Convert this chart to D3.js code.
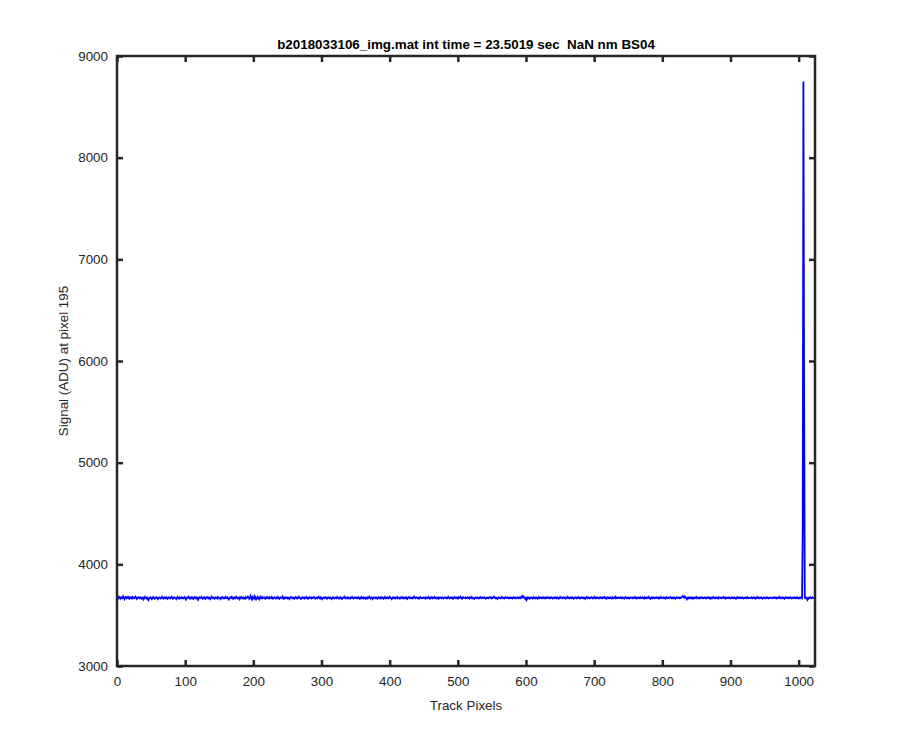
<!DOCTYPE html>
<html><head><meta charset="utf-8">
<script src="https://cdn.jsdelivr.net/npm/d3@7"></script>
<style>body{margin:0;background:#fff}svg{font-family:"Liberation Sans",Arial,Helvetica,sans-serif}</style>
</head><body><svg id="c" width="900" height="750"></svg>
<script>
const titleText = "b2018033106_img.mat int time = 23.5019 sec  NaN nm BS04";
const xLabel = "Track Pixels";
const yLabel = "Signal (ADU) at pixel 195";
const xTicks = [0,100,200,300,400,500,600,700,800,900,1000];
const yTicks = [3000,4000,5000,6000,7000,8000,9000];
const signal = [
3674,3666,3680,3670,3662,3676,3672,3668,3684,3670,3658,3674,3678,3666,3672,3680,3668,3662,3676,3670,3674,3664,3678,3672,3666,3670,3682,3674,3660,3668,3676,3670,
3666,3678,3672,3662,3670,3674,3656,3668,3680,3670,3664,3674,3666,3650,3662,3672,3676,3668,3660,3670,3678,3666,3662,3672,3668,3676,3670,3658,3666,3674,3670,3664,
3672,3680,3668,3662,3674,3670,3666,3678,3672,3660,3668,3676,3670,3664,3674,3682,3670,3662,3668,3676,3672,3666,3658,3670,3678,3668,3662,3674,3670,3666,3676,3672,
3664,3670,3678,3666,3654,3668,3674,3670,3682,3672,3662,3668,3676,3666,3672,3660,3670,3678,3668,3664,3674,3670,3652,3666,3676,3672,3668,3680,3670,3662,3672,3676,
3668,3660,3672,3678,3670,3664,3674,3668,3658,3670,3682,3674,3666,3672,3662,3668,3676,3670,3664,3678,3672,3666,3670,3660,3674,3668,3676,3672,3664,3670,3680,3668,
3670,3676,3664,3654,3668,3674,3670,3678,3666,3672,3662,3670,3676,3668,3680,3672,3664,3668,3674,3658,3670,3678,3668,3672,3664,3674,3670,3662,3676,3668,3672,3682,
3674,3660,3670,3688,3666,3654,3678,3670,3662,3686,3672,3656,3668,3680,3666,3674,3658,3670,3682,3668,3664,3676,3670,3666,3674,3662,3670,3678,3668,3672,3664,3676,
3670,3666,3680,3672,3662,3668,3676,3670,3664,3674,3668,3678,3666,3660,3670,3676,3672,3666,3682,3670,3662,3672,3668,3676,3670,3664,3674,3666,3658,3670,3678,3672,
3666,3674,3670,3662,3672,3678,3668,3664,3674,3670,3680,3672,3666,3660,3670,3676,3668,3672,3664,3674,3670,3678,3666,3662,3672,3668,3676,3670,3664,3674,3668,3672,
3678,3670,3662,3668,3674,3666,3672,3680,3670,3664,3676,3668,3658,3670,3674,3666,3672,3678,3668,3662,3670,3676,3672,3666,3674,3670,3660,3668,3676,3672,3664,3670,
3674,3668,3678,3670,3664,3672,3666,3676,3670,3660,3668,3674,3670,3682,3672,3664,3670,3676,3666,3672,3668,3662,3674,3670,3678,3668,3664,3672,3676,3670,3666,3674,
3668,3676,3670,3662,3672,3666,3678,3670,3664,3674,3668,3672,3660,3670,3676,3666,3672,3680,3670,3664,3674,3668,3658,3670,3676,3672,3666,3674,3670,3662,3672,3678,
3670,3664,3674,3668,3676,3672,3662,3670,3678,3666,3672,3668,3674,3664,3670,3680,3672,3666,3658,3670,3676,3668,3672,3664,3674,3670,3678,3666,3672,3668,3662,3674,
3672,3678,3668,3664,3674,3670,3666,3676,3668,3660,3672,3678,3670,3666,3674,3668,3672,3664,3670,3682,3674,3666,3670,3676,3668,3672,3662,3670,3678,3672,3666,3670,
3668,3674,3670,3664,3676,3672,3666,3670,3680,3668,3662,3674,3670,3676,3666,3672,3668,3678,3670,3664,3672,3668,3674,3662,3670,3676,3672,3666,3674,3670,3664,3672,
3676,3670,3666,3674,3668,3680,3672,3664,3670,3676,3668,3672,3662,3670,3678,3672,3666,3674,3670,3664,3676,3668,3672,3682,3670,3662,3672,3676,3668,3670,3674,3666,
3670,3676,3668,3672,3664,3674,3670,3678,3666,3672,3668,3660,3670,3676,3672,3666,3674,3670,3664,3672,3678,3668,3670,3674,3666,3672,3676,3668,3662,3670,3674,3670,
3666,3672,3678,3670,3664,3674,3668,3672,3682,3670,3666,3674,3668,3660,3670,3676,3672,3666,3670,3678,3668,3674,3670,3664,3672,3676,3668,3670,3674,3666,3672,3668,
3674,3668,3672,3664,3670,3678,3670,3666,3674,3668,3672,3676,3666,3670,3674,3668,3678,3672,3690,3686,3674,3668,3658,3670,3652,3666,3676,3670,3662,3672,3668,3674,
3670,3664,3676,3668,3672,3666,3674,3670,3662,3672,3678,3668,3670,3674,3666,3672,3668,3676,3670,3664,3674,3668,3672,3678,3670,3666,3672,3668,3676,3670,3664,3672,
3668,3674,3670,3676,3666,3672,3668,3662,3674,3670,3678,3672,3666,3670,3676,3668,3672,3664,3674,3670,3680,3668,3672,3666,3670,3676,3668,3674,3670,3662,3672,3676,
3670,3666,3674,3668,3678,3672,3664,3670,3676,3668,3672,3666,3674,3670,3660,3672,3678,3668,3674,3670,3666,3672,3668,3676,3670,3664,3674,3670,3678,3666,3672,3668,
3674,3670,3664,3672,3676,3668,3672,3666,3674,3670,3678,3668,3672,3662,3670,3676,3668,3672,3666,3674,3670,3664,3676,3668,3672,3670,3680,3666,3672,3668,3674,3670,
3668,3672,3676,3666,3670,3674,3668,3662,3672,3678,3670,3666,3674,3668,3672,3664,3670,3676,3672,3666,3674,3670,3668,3678,3670,3664,3672,3668,3674,3670,3666,3676,
3672,3668,3674,3670,3664,3676,3668,3672,3666,3674,3670,3680,3668,3672,3662,3670,3676,3668,3674,3670,3666,3672,3676,3668,3670,3674,3664,3672,3668,3678,3670,3666,
3670,3674,3668,3672,3664,3676,3670,3666,3674,3668,3672,3678,3670,3664,3672,3668,3674,3670,3662,3672,3676,3668,3670,3674,3666,3672,3668,3676,3682,3688,3680,3672,
3684,3674,3668,3656,3670,3664,3674,3668,3672,3666,3676,3670,3662,3672,3668,3674,3670,3678,3666,3672,3668,3664,3674,3670,3676,3668,3672,3666,3670,3674,3668,3672,
3666,3674,3670,3676,3668,3672,3662,3670,3674,3668,3678,3672,3666,3670,3674,3668,3672,3664,3676,3670,3668,3674,3666,3672,3670,3678,3668,3672,3664,3674,3670,3668,
3674,3668,3672,3664,3670,3676,3668,3672,3666,3674,3670,3662,3672,3678,3668,3670,3674,3666,3672,3668,3676,3670,3664,3672,3668,3674,3670,3666,3676,3668,3672,3670,
3668,3672,3676,3666,3670,3674,3668,3672,3664,3674,3670,3678,3668,3672,3666,3670,3676,3668,3662,3672,3674,3670,3666,3672,3668,3676,3670,3664,3672,3674,3668,3670,
3672,3666,3674,3670,3676,3668,3672,3664,3670,3674,3668,3678,3670,3666,3672,3668,3674,3670,3662,3672,3676,3668,3670,3674,3666,3672,3668,3676,3670,3664,3672,3668,
3670,3674,3666,3672,3668,3676,3670,3664,3672,3668,3674,3670,3666,4350,8750,5760,3672,3666,3674,3670,3650,3658,3672,3668,3676,3670,3666,3674,3670,3668,3672,3670
];

const svg = d3.select("#c");
const L = 117, R = 815, T = 56, B = 666;
const axisColor = "#262626";
const x = d3.scaleLinear().domain([0, 1024]).range([L, R]);
const y = d3.scaleLinear().domain([3000, 9000]).range([B, T]);

svg.append("rect").attr("width", 900).attr("height", 750).attr("fill", "#fff");

// data line
const line = d3.line().x((d, i) => x(i + 1)).y(d => y(d));
svg.append("path").datum(signal)
  .attr("d", line).attr("fill", "none")
  .attr("stroke", "#0000ff").attr("stroke-width", 1.8)
  .attr("stroke-linejoin", "miter");

// axes with inward ticks
const tl = 6;
const fmt = d3.format("d");
const xb = d3.axisBottom(x).tickValues(xTicks).tickFormat(fmt).tickSizeInner(-tl).tickSizeOuter(0).tickPadding(10);
const xt = d3.axisTop(x).tickValues(xTicks).tickSizeInner(-tl).tickSizeOuter(0).tickFormat("");
const yl = d3.axisLeft(y).tickValues(yTicks).tickFormat(fmt).tickSizeInner(-tl).tickSizeOuter(0).tickPadding(9);
const yr = d3.axisRight(y).tickValues(yTicks).tickSizeInner(-tl).tickSizeOuter(0).tickFormat("");

function style(g) {
  g.select(".domain").remove();
  g.selectAll(".tick line").attr("stroke", axisColor).attr("stroke-width", 2.5);
  g.selectAll(".tick text").attr("fill", axisColor).attr("font-size", 13.4)
    .attr("font-family", '"Liberation Sans",Arial,sans-serif');
}
svg.append("g").attr("transform", `translate(0,${B})`).call(xb).call(style);
svg.append("g").attr("transform", `translate(0,${T})`).call(xt).call(style);
svg.append("g").attr("transform", `translate(${L},0)`).call(yl).call(style);
svg.append("g").attr("transform", `translate(${R},0)`).call(yr).call(style);

svg.append("rect").attr("x", L).attr("y", T).attr("width", R - L).attr("height", B - T)
  .attr("fill", "none").attr("stroke", axisColor).attr("stroke-width", 2.5);

svg.append("text").attr("x", (L + R) / 2).attr("y", 49).attr("text-anchor", "middle")
  .attr("font-size", 13.4).attr("font-weight", "bold").attr("fill", "#000")
  .attr("xml:space", "preserve").style("white-space", "pre").text(titleText);
svg.append("text").attr("x", (L + R) / 2).attr("y", 710).attr("text-anchor", "middle")
  .attr("font-size", 13.4).attr("fill", axisColor).text(xLabel);
svg.append("text").attr("transform", `translate(68,${(T + B) / 2}) rotate(-90)`)
  .attr("text-anchor", "middle").attr("font-size", 13.4).attr("fill", axisColor).text(yLabel);
</script></body></html>
